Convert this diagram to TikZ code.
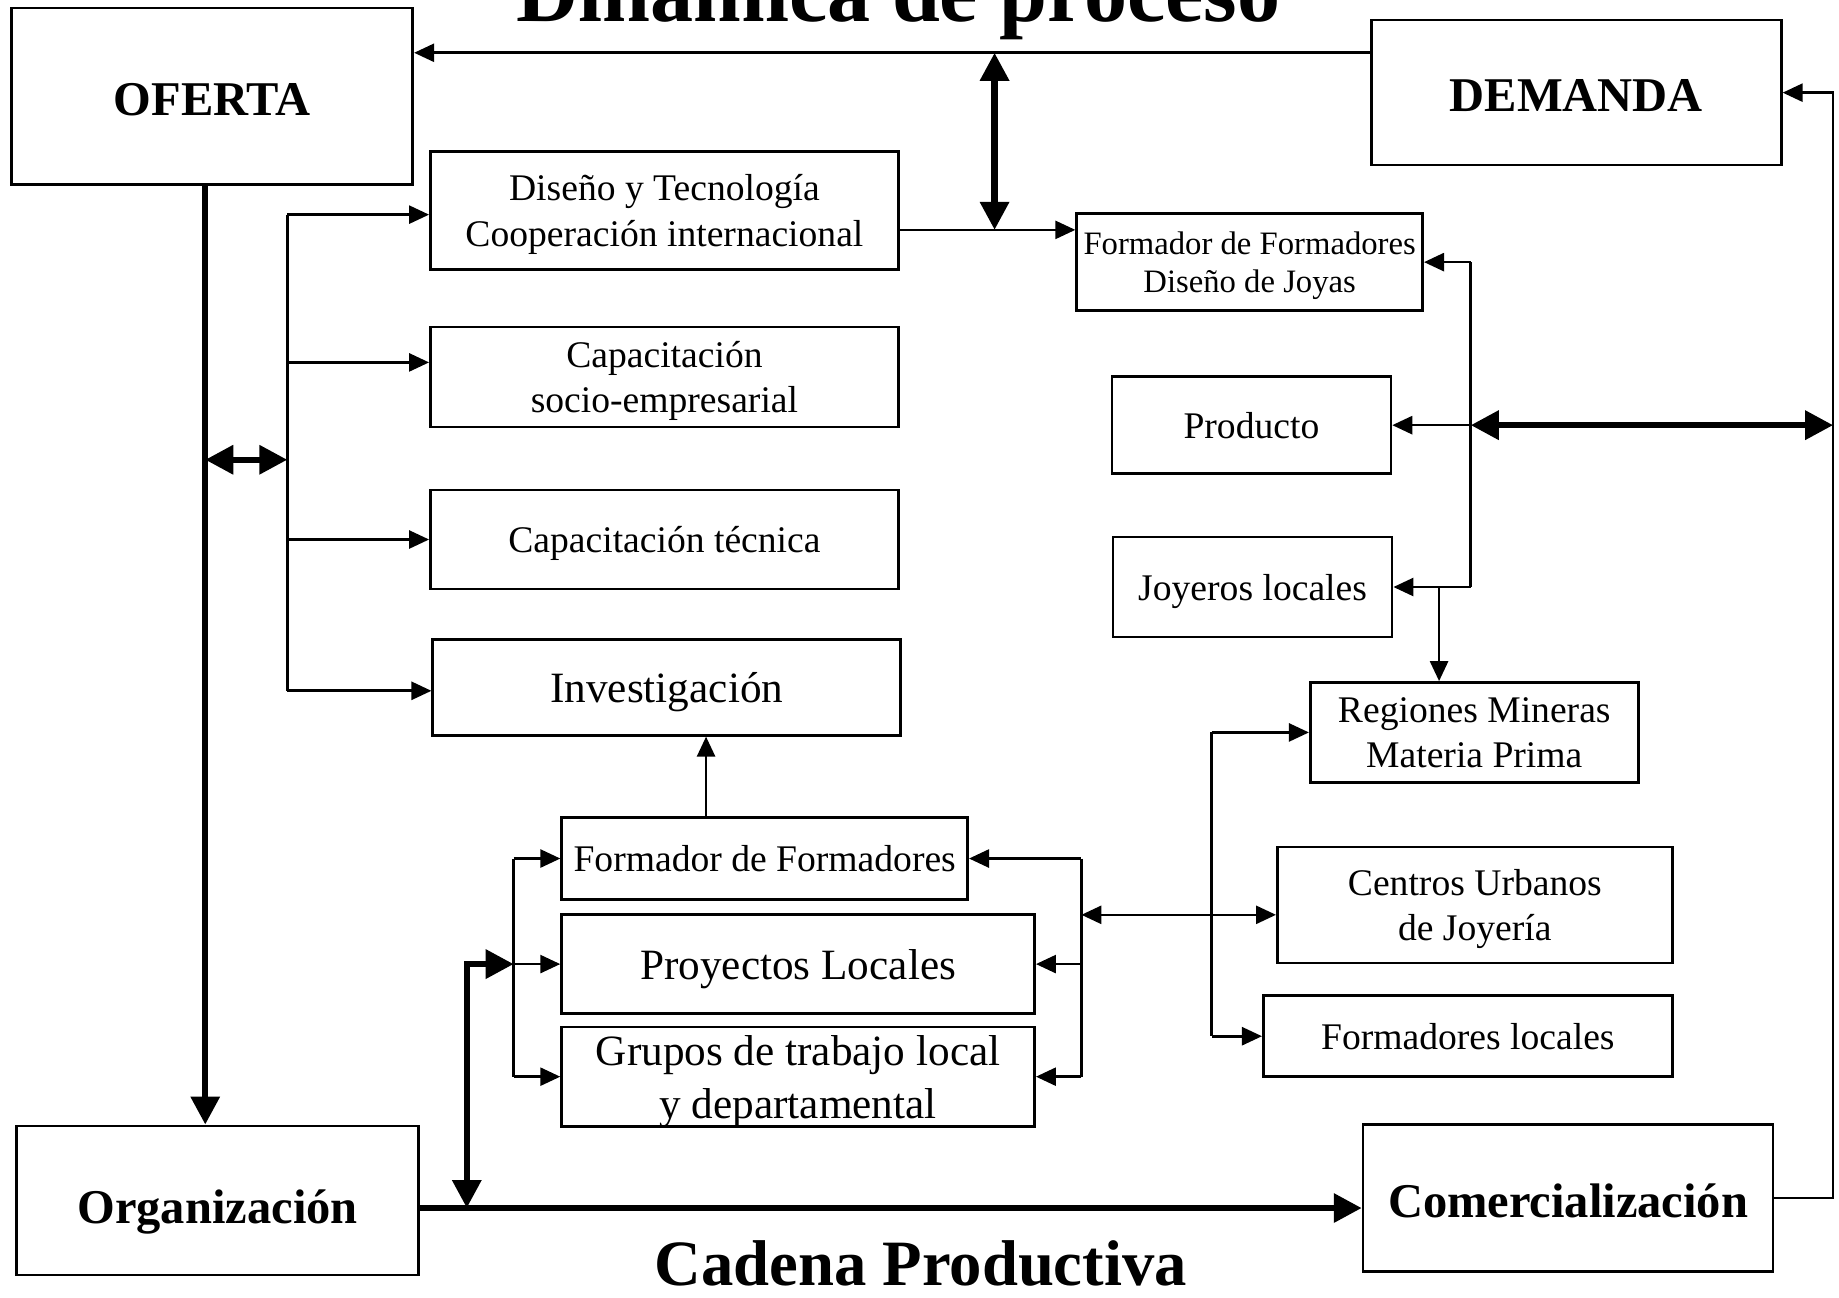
\documentclass[tikz,border=0pt]{standalone}
\usepackage{fontspec}
\setmainfont{Liberation Serif}
\usetikzlibrary{arrows.meta}

\begin{document}
\begin{tikzpicture}[x=0.11728mm, y=-0.11728mm, line width=0.75pt, >={Triangle[length=2mm,width=1.8mm]},
    box/.style={draw, inner sep=0pt, align=center, text depth=0pt, font=\fontsize{10.7}{13}\selectfont},
    bigbox/.style={box, text height=10.8pt, font=\fontsize{13.8}{16}\selectfont\bfseries},
    heavy/.style={line width=1.8pt, >={Triangle[length=2.8mm,width=2.8mm]}}]
            \useasboundingbox (0,0) rectangle (1568,1106);

            % Draw the titles
            \node[font=\fontsize{24.5}{28}\selectfont\bfseries, anchor=base] (titulo) at (766,18) {Dinámica de proceso};
            \node[font=\fontsize{18.4}{22}\selectfont\bfseries, anchor=base] (cadena) at (785,1096) {Cadena Productiva};

            % Draw the corner boxes
            \node[bigbox, minimum width=40.1mm, minimum height=17.6mm] (oferta) at (181,82) {OFERTA};
            \node[bigbox, minimum width=41mm, minimum height=14.5mm] (demanda) at (1344,79) {DEMANDA};
            \node[bigbox, text height=13.2pt, minimum width=40.2mm, minimum height=14.9mm] (org) at (185.5,1023.5) {Organización};
            \node[bigbox, minimum width=41mm, minimum height=14.7mm] (com) at (1337,1021.5) {Comercialización};

            % Draw the left column
            \foreach \n/\y/\h/\t in {dis/179.5/11.8/{Diseño y Tecnología\\Cooperación internacional},
                    soc/321.5/10/{Capacitación\\socio-empresarial}, tec/460/9.9/{Capacitación técnica}}{
                \node[box, minimum width=46.8mm, minimum height=\h mm] (\n) at (566.5,\y) {\t};
            }
            \node[box, font=\fontsize{12.3}{14}\selectfont, minimum width=46.8mm, minimum height=9.6mm] (inv) at (568.5,586) {Investigación};

            % Draw the right column
            \node[box, font=\fontsize{9.3}{11}\selectfont, minimum width=34.6mm, minimum height=9.7mm] (fj) at (1065.5,223.5) {Formador de Formadores\\Diseño de Joyas};
            \node[box, minimum width=27.9mm, minimum height=9.7mm] (prod) at (1067,362.5) {Producto};
            \node[box, minimum width=27.9mm, minimum height=10mm] (joy) at (1068,500.5) {Joyeros locales};
            \node[box, minimum width=32.8mm, minimum height=10mm] (reg) at (1257,624.5) {Regiones Mineras\\Materia Prima};
            \node[box, minimum width=39.5mm, minimum height=11.6mm] (cen) at (1257.5,771.5) {Centros Urbanos\\de Joyería};
            \node[box, minimum width=40.9mm, minimum height=8.1mm] (fl) at (1251.5,883.5) {Formadores locales};

            % Draw the local group
            \node[box, minimum width=40.6mm, minimum height=8.2mm] (ff) at (652,732) {Formador de Formadores};
            \node[box, font=\fontsize{12.3}{15}\selectfont, minimum width=47.3mm, minimum height=9.9mm] (proy) at (680.5,822) {Proyectos Locales};
            \node[box, font=\fontsize{12.3}{15}\selectfont, minimum width=47.3mm, minimum height=9.9mm] (grp) at (680.5,918) {Grupos de trabajo local\\y departamental};

            % Draw the oferta - demanda links
            \draw[->] (demanda.west |- 0,45) -- (oferta.east |- 0,45);
            \draw[heavy, <->] (848,45) -- (848,196);
            \draw[->] (dis.east |- 0,196) -- (fj.west |- 0,196);

            % Draw the main chain
            \draw[heavy, ->] (oferta.south -| 175,0) -- (org.north -| 175,0);
            \draw[heavy, ->] (org.east |- 0,1030) -- (com.west |- 0,1030);
            \draw[->] (com.east) -- (1563,1021.5) |- (demanda.east);

            % Draw the left bus
            \draw[heavy, <->] (175,392) -- (245,392);
            \draw (245,183) -- (245,589);
            \foreach \n/\y in {dis/183, soc/309, tec/460, inv/589}{
                \draw[->] (245,\y) -- (\n.west |- 0,\y);
            }
            \draw[->] (ff.north -| 602,0) -- (inv.south -| 602,0);

            % Draw the buses of the local group
            \draw (ff.west -| 438,0) -- (grp.west -| 438,0);
            \draw (ff.east -| 922,0) -- (grp.east -| 922,0);
            \foreach \n in {ff, proy, grp}{
                \draw[->] (\n.west -| 438,0) -- (\n.west);
                \draw[->] (\n.east -| 922,0) -- (\n.east);
            }
            \draw[heavy, <->] (438,822) -- (398,822) -- (398,1030);

            % Draw the bus to the regions
            \draw (reg.west -| 1033,0) -- (fl.west -| 1033,0);
            \foreach \n in {reg, fl}{
                \draw[->] (\n.west -| 1033,0) -- (\n.west);
            }
            \draw[<->] (922,780) -- (cen.west |- 0,780);

            % Draw the bus of the right column
            \draw (fj.east -| 1254,0) -- (joy.east -| 1254,0);
            \foreach \n in {fj, prod, joy}{
                \draw[->] (\n.east -| 1254,0) -- (\n.east);
            }
            \draw[->] (joy.east -| 1227,0) -- (reg.north -| 1227,0);
            \draw[heavy, <->] (prod.east -| 1254,0) -- (1563,362.5);
\end{tikzpicture}
\end{document}
